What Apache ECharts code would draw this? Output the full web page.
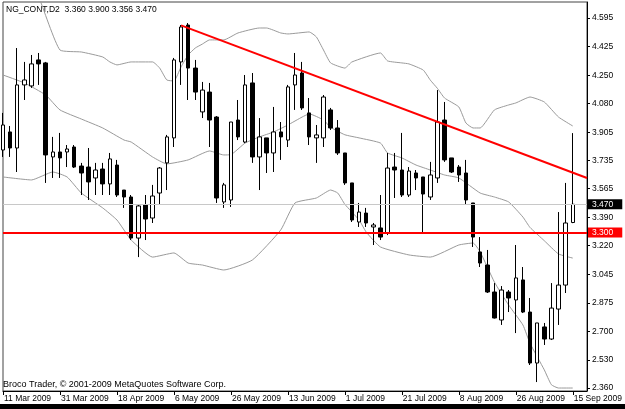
<!DOCTYPE html>
<html>
<head>
<meta charset="utf-8">
<script src="https://cdn.jsdelivr.net/npm/echarts@6.0.0/dist/echarts.min.js"></script>
<style>
html, body { margin: 0; padding: 0; background: #fff; }
#chart { width: 625px; height: 409px; }
</style>
</head>
<body>
<div id="chart"></div>
<script>
var symbolName = 'NG_CONT,D2';
var copyright = 'Broco Trader, © 2001-2009 MetaQuotes Software Corp.';

// D2 bars, each [open, close, low, high]
var candles = [
  [3.798, 3.949, 3.756, 4.022],
  [3.907, 3.810, 3.756, 3.943],
  [3.810, 4.191, 3.665, 4.414],
  [4.191, 4.221, 4.100, 4.330],
  [4.185, 4.318, 4.173, 4.372],
  [4.342, 4.318, 4.191, 4.384],
  [4.324, 3.768, 3.599, 4.330],
  [3.756, 3.786, 3.629, 3.877],
  [3.786, 3.750, 3.629, 3.901],
  [3.786, 3.804, 3.695, 3.828],
  [3.816, 3.695, 3.689, 3.828],
  [3.701, 3.659, 3.526, 3.720],
  [3.695, 3.605, 3.496, 3.810],
  [3.629, 3.677, 3.526, 3.720],
  [3.683, 3.593, 3.526, 3.720],
  [3.593, 3.744, 3.526, 3.780],
  [3.707, 3.526, 3.514, 3.738],
  [3.556, 3.514, 3.448, 3.556],
  [3.514, 3.266, 3.254, 3.526],
  [3.266, 3.460, 3.151, 3.466],
  [3.466, 3.381, 3.254, 3.526],
  [3.387, 3.520, 3.357, 3.587],
  [3.538, 3.689, 3.466, 3.695],
  [3.720, 3.877, 3.556, 3.889],
  [3.871, 4.342, 3.816, 4.354],
  [4.330, 4.541, 4.191, 4.553],
  [4.553, 4.293, 4.100, 4.565],
  [4.293, 4.148, 4.100, 4.342],
  [4.028, 4.160, 3.991, 4.209],
  [4.148, 3.979, 3.816, 4.203],
  [3.997, 3.508, 3.478, 4.003],
  [3.484, 3.587, 3.448, 3.599],
  [3.496, 3.967, 3.454, 3.967],
  [3.979, 3.877, 3.858, 4.100],
  [3.846, 4.191, 3.840, 4.251],
  [4.203, 3.756, 3.720, 4.263],
  [3.756, 3.877, 3.556, 3.991],
  [3.871, 3.780, 3.659, 3.871],
  [3.780, 3.907, 3.665, 4.058],
  [3.907, 3.877, 3.738, 3.967],
  [3.858, 4.179, 3.816, 4.191],
  [4.191, 4.251, 4.040, 4.384],
  [4.263, 4.052, 4.040, 4.330],
  [4.022, 3.877, 3.828, 4.112],
  [3.871, 3.889, 3.720, 3.949],
  [3.871, 4.118, 3.816, 4.130],
  [4.040, 3.931, 3.919, 4.052],
  [3.931, 3.780, 3.768, 3.979],
  [3.780, 3.599, 3.587, 3.780],
  [3.599, 3.375, 3.363, 3.599],
  [3.363, 3.423, 3.333, 3.478],
  [3.417, 3.357, 3.333, 3.448],
  [3.333, 3.345, 3.224, 3.357],
  [3.327, 3.272, 3.254, 3.526],
  [3.296, 3.689, 3.284, 3.780],
  [3.695, 3.677, 3.508, 3.780],
  [3.677, 3.526, 3.514, 3.901],
  [3.526, 3.671, 3.514, 3.695],
  [3.659, 3.629, 3.556, 3.677],
  [3.635, 3.532, 3.296, 3.635],
  [3.514, 3.647, 3.496, 3.726],
  [3.629, 3.967, 3.599, 4.160],
  [3.979, 3.738, 3.726, 4.088],
  [3.750, 3.665, 3.659, 3.750],
  [3.695, 3.647, 3.605, 3.707],
  [3.659, 3.496, 3.466, 3.738],
  [3.478, 3.272, 3.212, 3.478],
  [3.182, 3.115, 3.091, 3.272],
  [3.103, 2.940, 2.934, 3.194],
  [2.940, 2.783, 2.780, 2.994],
  [2.771, 2.952, 2.741, 2.976],
  [2.940, 2.904, 2.819, 2.952],
  [2.892, 3.025, 2.692, 3.224],
  [3.013, 2.819, 2.813, 3.091],
  [2.819, 2.511, 2.499, 2.904],
  [2.511, 2.753, 2.396, 2.753],
  [2.729, 2.656, 2.620, 2.753],
  [2.656, 2.843, 2.650, 2.994],
  [2.837, 2.982, 2.741, 3.423],
  [2.982, 3.357, 2.934, 3.599],
  [3.360, 3.470, 3.356, 3.900]
];

// Bollinger bands, [bar index, price]
var bbUpper = [
  [2, 5.00], [5, 4.725], [8, 4.402], [11, 4.390], [14, 4.360], [15, 4.330],
  [16, 4.312], [18, 4.330], [21, 4.330], [22, 4.293], [23, 4.221], [24, 4.215],
  [25, 4.300], [26, 4.372], [27, 4.414], [28, 4.438], [29, 4.463], [31, 4.463],
  [33, 4.505], [36, 4.535], [37, 4.535], [39, 4.505], [40, 4.499], [43, 4.511],
  [44, 4.481], [45, 4.402], [46, 4.324], [48, 4.293], [49, 4.330], [53, 4.384],
  [54, 4.336], [56, 4.324], [57, 4.318], [59, 4.281], [60, 4.220], [61, 4.170],
  [62, 4.112], [64, 4.058], [65, 3.961], [66, 3.931], [67, 3.931], [69, 4.040],
  [71, 4.070], [72, 4.082], [74, 4.118], [76, 4.088], [78, 3.997], [80, 3.943]
];
var bbMiddle = [
  [0, 4.251], [3, 4.203], [6, 4.130], [8, 4.040], [11, 3.985], [14, 3.931],
  [17, 3.858], [18, 3.846], [21, 3.756], [23, 3.714], [26, 3.738], [29, 3.792],
  [31, 3.768], [32, 3.770], [34, 3.840], [36, 3.877], [38, 3.907], [40, 3.949],
  [42, 3.997], [43, 4.016], [45, 3.979], [46, 3.935], [48, 3.890], [50, 3.871],
  [53, 3.840], [54, 3.780], [56, 3.750], [58, 3.707], [60, 3.677], [62, 3.647],
  [64, 3.629], [67, 3.538], [69, 3.514], [71, 3.484], [73, 3.393], [74, 3.330],
  [76, 3.250], [78, 3.170], [80, 3.145]
];
var bbLower = [
  [0, 3.635], [4, 3.617], [7, 3.665], [9, 3.635], [11, 3.538], [14, 3.448],
  [16, 3.375], [18, 3.254], [21, 3.151], [24, 3.176], [26, 3.115], [28, 3.103],
  [31, 3.073], [35, 3.133], [39, 3.315], [41, 3.478], [44, 3.508], [46, 3.556],
  [47, 3.538], [48, 3.470], [50, 3.375], [51, 3.302], [53, 3.212], [57, 3.164],
  [60, 3.151], [64, 3.224], [66, 3.236], [67, 3.182], [69, 3.000], [71, 2.861],
  [73, 2.741], [74, 2.630], [76, 2.470], [77, 2.380], [78, 2.360], [80, 2.360]
];

var trendLine = [[25, 4.551], [82, 3.629]];
var supportLevel = 3.300;
var lastPrice = 3.470;

var dateLabels = ['11 Mar 2009', '31 Mar 2009', '18 Apr 2009', '6 May 2009', '26 May 2009',
  '13 Jun 2009', '1 Jul 2009', '21 Jul 2009', '8 Aug 2009', '26 Aug 2009', '15 Sep 2009'];
var priceTicks = ['2.360', '2.530', '2.700', '2.875', '3.045', '3.220', '3.390',
  '3.565', '3.735', '3.905', '4.080', '4.250', '4.425', '4.595'];

var labelStep = 8;     // one date label every 8 bars
var emptyBars = 2;     // free space right of the last bar
var font = 'Liberation Sans, Arial, sans-serif';

var cats = [];
for (var i = 0; i < candles.length + emptyBars; i++) cats.push(i);
var tickVals = priceTicks.map(function (t) { return parseFloat(t); });
var last = candles[candles.length - 1];
var header = symbolName + '  ' + [last[0], last[3], last[2], last[1]].map(function (v) { return v.toFixed(3); }).join(' ');

function isDateTick(idx) {
  return idx % labelStep === 0 && idx / labelStep < dateLabels.length;
}

var myChart = echarts.init(document.getElementById('chart'));
var option = {
  animation: false,
  backgroundColor: '#fff',
  textStyle: { fontFamily: font },
  grid: {
    left: 3, right: 38, top: 2, bottom: 18,
    containLabel: false,
    outerBoundsMode: 'none',
    show: true,
    borderColor: '#444',
    borderWidth: 1
  },
  xAxis: {
    type: 'category',
    data: cats,
    boundaryGap: false,
    axisLine: { lineStyle: { color: '#000', width: 1 } },
    axisTick: {
      interval: function (idx) { return isDateTick(idx); },
      length: 4,
      lineStyle: { color: '#000' }
    },
    axisLabel: {
      interval: function (idx) { return isDateTick(idx); },
      formatter: function (v, idx) { return dateLabels[idx / labelStep]; },
      align: 'left',
      padding: [0, 0, 0, 1],
      margin: 3,
      color: '#000',
      fontSize: 8.5,
      fontFamily: font
    },
    splitLine: { show: false }
  },
  yAxis: {
    type: 'value',
    position: 'right',
    min: 2.342,
    max: 4.692,
    axisLine: { show: true, lineStyle: { color: '#000', width: 1 } },
    axisTick: { show: true, customValues: tickVals, length: 3, lineStyle: { color: '#000' } },
    axisLabel: {
      customValues: tickVals,
      formatter: function (v) { return v.toFixed(3); },
      margin: 5,
      color: '#000',
      fontSize: 8.5,
      fontFamily: font
    },
    splitLine: { show: false }
  },
  graphic: [
    { type: 'text', left: 6, top: 5, style: { text: header, fill: '#000', font: '8.5px ' + font } },
    { type: 'text', left: 3, top: 380, style: { text: copyright, fill: '#000', font: '9px ' + font } },
    { type: 'rect', left: 0, top: 404, shape: { width: 625, height: 5 }, style: { fill: '#000' } }
  ],
  series: [
    {
      name: 'BB upper', type: 'line', data: bbUpper, symbol: 'none', smooth: 0.15,
      lineStyle: { color: '#9a9a9a', width: 1 }, z: 2
    },
    {
      name: 'BB middle', type: 'line', data: bbMiddle, symbol: 'none', smooth: 0.15,
      lineStyle: { color: '#9a9a9a', width: 1 }, z: 2
    },
    {
      name: 'BB lower', type: 'line', data: bbLower, symbol: 'none', smooth: 0.15,
      lineStyle: { color: '#9a9a9a', width: 1 }, z: 2
    },
    {
      name: symbolName,
      type: 'candlestick',
      data: candles,
      barWidth: 4,
      clip: false,
      z: 3,
      itemStyle: {
        color: '#fff',
        color0: '#000',
        borderColor: '#000',
        borderColor0: '#000',
        borderWidth: 1
      },
      markLine: {
        symbol: 'none',
        silent: true,
        z: 4,
        data: [
          {
            yAxis: lastPrice,
            lineStyle: { color: '#c8c8c8', width: 1, type: 'solid' },
            label: {
              show: true, position: 'end', distance: 1, formatter: lastPrice.toFixed(3),
              backgroundColor: '#000', color: '#fff', padding: [1, 9, 0, 4],
              fontSize: 8.5, fontFamily: font
            }
          },
          {
            yAxis: supportLevel,
            lineStyle: { color: '#ff0000', width: 2, type: 'solid' },
            label: {
              show: true, position: 'end', distance: 1, formatter: supportLevel.toFixed(3),
              backgroundColor: '#ff0000', color: '#fff', padding: [1, 9, 0, 4],
              fontSize: 8.5, fontFamily: font
            }
          },
          [
            { coord: trendLine[0], lineStyle: { color: '#ff0000', width: 2, type: 'solid' }, label: { show: false } },
            { coord: trendLine[1] }
          ]
        ]
      }
    }
  ]
};
myChart.setOption(option);
window.onresize = myChart.resize;
</script>
</body>
</html>
